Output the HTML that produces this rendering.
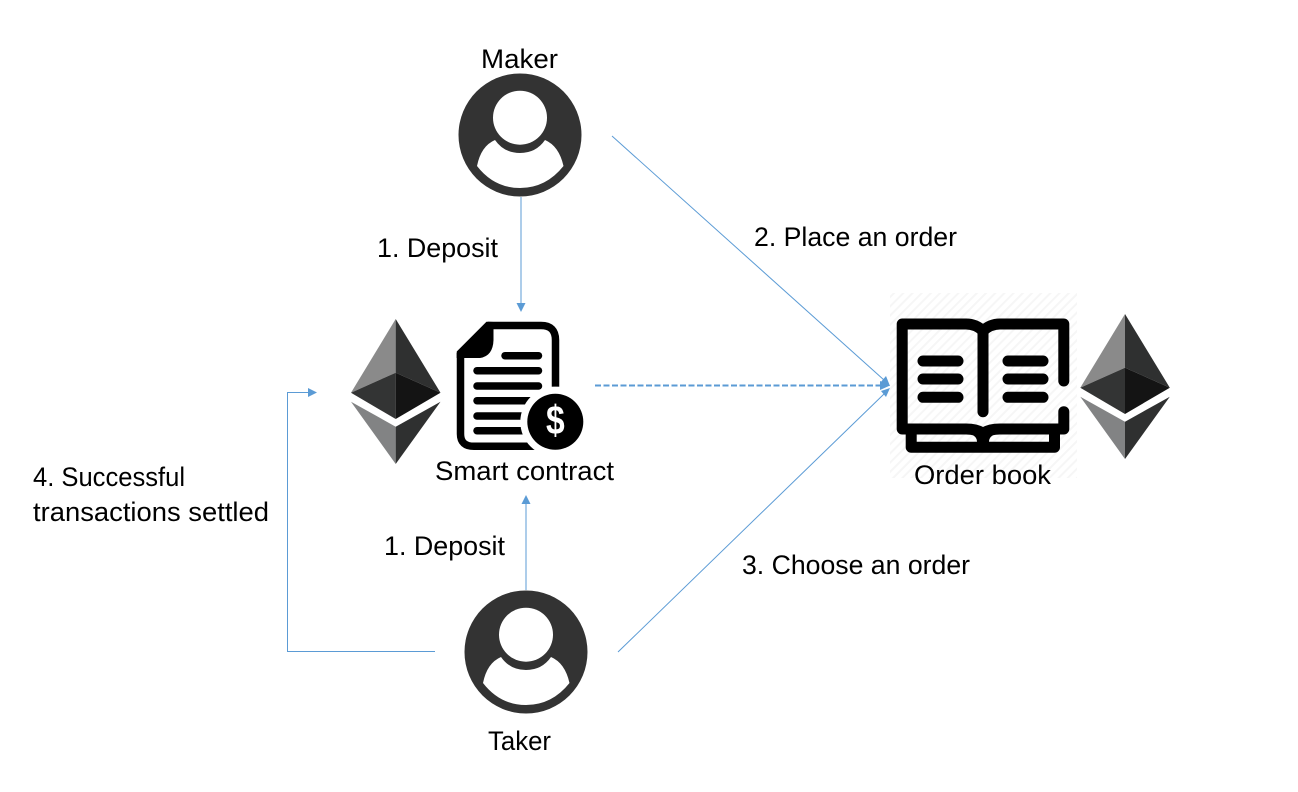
<!DOCTYPE html>
<html><head><meta charset="utf-8"><style>
html,body{margin:0;padding:0;background:#fff}
svg{display:block}
text{font-family:"Liberation Sans",sans-serif;font-size:26.5px;fill:#000}
</style></head><body>
<svg width="1298" height="792" viewBox="0 0 1298 792" xmlns="http://www.w3.org/2000/svg">
<defs>
<pattern id="h" width="6.5" height="6.5" patternUnits="userSpaceOnUse" patternTransform="rotate(45)"><rect width="6.5" height="6.5" fill="#fff"/><rect width="2" height="6.5" fill="#f6f6f6"/></pattern>
<g id="eth">
<polygon points="395.7,319 351,392.7 395.7,372.7" fill="#8a8a8a"/>
<polygon points="395.7,319 440.5,392.7 395.7,372.7" fill="#2f3030"/>
<polygon points="351,392.7 395.7,372.7 395.7,419" fill="#333434"/>
<polygon points="440.5,392.7 395.7,372.7 395.7,419" fill="#141414"/>
<polygon points="351,401.7 395.7,426.7 395.7,464" fill="#828384"/>
<polygon points="440.5,401.7 395.7,426.7 395.7,464" fill="#2f3030"/>
</g>
<g id="person">
<circle cx="520" cy="135" r="61.5" fill="#333"/>
<circle cx="520" cy="117.7" r="27" fill="#fff"/>
<path d="M495 140Q504 153 520 153Q536 153 545 140Q559 146 563.500 166Q546 188 520 188Q494 188 477 166Q481 146 495 140Z" fill="#fff"/>
</g>
</defs>

<!-- connectors -->
<g fill="none" stroke="#5b9bd5" stroke-width="1">
<path d="M521 197V305"/>
<path d="M526 590V502"/>
<path d="M435 651.500H287.500V392.500H310"/>
<path d="M612 136L884 380"/>
<path d="M618 652L884 394"/>
<path d="M595 385.500H882" stroke-width="2" stroke-dasharray="6 2.500"/>
</g>
<g fill="#5b9bd5">
<polygon points="516.500,303 525.500,303 521,312"/>
<polygon points="521.500,504 530.500,504 526,495"/>
<polygon points="308,388 308,397 317,392.500"/>
<polygon points="880,381 890,385.500 880,390"/>
<polygon points="886,376 880,383 890,386"/>
<polygon points="890,388 881,391 886,397"/>
</g>

<!-- people -->
<use href="#person"/>
<use href="#person" x="6" y="517"/>

<!-- ethereum -->
<use href="#eth"/>
<use href="#eth" x="729.300" y="-5"/>

<!-- contract -->
<g fill="none" stroke="#000" stroke-width="7.500">
<path d="M555.500 386.700V340Q555.500 325.500 541 325.500H488L460.500 353V434Q460.500 446.300 474 446.300H545"/>
</g>
<path d="M488 321.700L456.700 353V358H480Q493 356 493.500 340V322Z" fill="#000"/>
<g stroke="#000" stroke-width="7.500" stroke-linecap="round" fill="none">
<path d="M505 355.700H538.500"/>
<path d="M477 370.700H538.500"/>
<path d="M477 386H538.500"/>
<path d="M477 400.700H545"/>
<path d="M477 416H545"/>
<path d="M477 430.700H545"/>
</g>
<circle cx="555.300" cy="421.800" r="35" fill="#fff"/>
<circle cx="555.300" cy="421.800" r="28" fill="#000"/>
<text transform="translate(555.300 434) scale(.82 1)" text-anchor="middle" style="font-size:41px;font-weight:bold;fill:#fff">$</text>

<!-- order book -->
<rect x="890" y="293" width="187" height="185" fill="url(#h)"/>
<g fill="none" stroke="#000" stroke-width="11" stroke-linecap="round" stroke-linejoin="round">
<path d="M1063.800 381V324H1000Q990 324 983 331Q976 324 966 324H902.200V429H966Q976 429 983 433Q990 429 1000 429H1063.800V411.700"/>
<path d="M983 331V411.700"/>
<path d="M923 361H958M923 379H958M923 397.300H958"/>
<path d="M1008 361H1043M1008 379H1043M1008 397.300H1043"/>
<path d="M911.200 431V447.200H1054.500V431"/>
</g>
<path d="M970 434Q977 436 977 442H989Q989 436 996 434Z" fill="#000"/>

<!-- labels -->
<text x="481" y="68" textLength="77" lengthAdjust="spacingAndGlyphs">Maker</text>
<text x="377" y="257" textLength="121" lengthAdjust="spacingAndGlyphs">1. Deposit</text>
<text x="754" y="246" textLength="203" lengthAdjust="spacingAndGlyphs">2. Place an order</text>
<text x="435" y="480" textLength="179" lengthAdjust="spacingAndGlyphs">Smart contract</text>
<text x="914" y="484" textLength="137" lengthAdjust="spacingAndGlyphs">Order book</text>
<text x="33" y="486" textLength="152" lengthAdjust="spacingAndGlyphs">4. Successful</text>
<text x="33" y="521" textLength="236" lengthAdjust="spacingAndGlyphs">transactions settled</text>
<text x="384" y="555" textLength="121" lengthAdjust="spacingAndGlyphs">1. Deposit</text>
<text x="742" y="574" textLength="228" lengthAdjust="spacingAndGlyphs">3. Choose an order</text>
<text x="488" y="750" textLength="63" lengthAdjust="spacingAndGlyphs">Taker</text>
</svg>
</body></html>
